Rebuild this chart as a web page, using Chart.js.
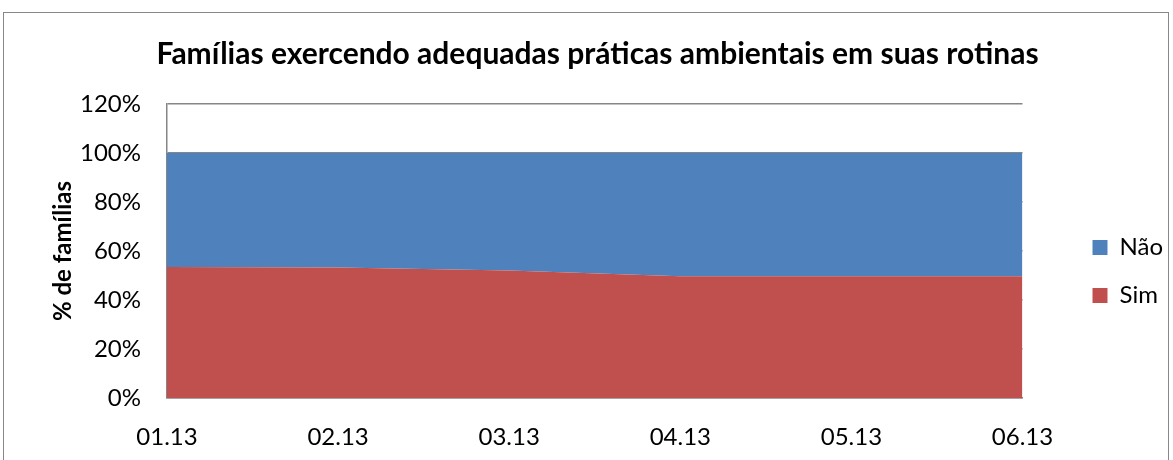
<!DOCTYPE html>
<html>
<head>
<meta charset="utf-8">
<script src="https://cdn.jsdelivr.net/npm/chart.js@4"></script>
<style>
  body { margin: 0; background: #fff; }
  #wrap { position: relative; width: 1173px; height: 460px; overflow: hidden; }
  #frame { position: absolute; left: 3px; top: 12px; width: 1164px; height: 500px; border: 1.5px solid #878787; }
  canvas { position: absolute; left: 0; top: 0; }
</style>
</head>
<body>
<div id="wrap">
  <div id="frame"></div>
  <canvas id="chart" width="1173" height="460"></canvas>
</div>
<script>
// Data
const months = ['01.13', '02.13', '03.13', '04.13', '05.13', '06.13'];
const sim = [53.5, 53.3, 52.0, 49.7, 49.7, 49.7];
const nao = [46.5, 46.7, 48.0, 50.3, 50.3, 50.3];
const yTicks = [0, 20, 40, 60, 80, 100, 120];

const font = 'Lato, "Open Sans", sans-serif';
const gray = '#868686';

const ctx = document.getElementById('chart').getContext('2d');
const chart = new Chart(ctx, {
  type: 'line',
  data: {
    labels: months,
    datasets: [
      {
        label: 'Sim',
        data: sim,
        backgroundColor: '#C0504D',
        borderColor: '#C0504D',
        borderWidth: 0,
        pointRadius: 0,
        fill: 'origin',
      },
      {
        label: 'Não',
        data: nao,
        backgroundColor: '#4F81BD',
        borderColor: '#4F81BD',
        borderWidth: 0,
        pointRadius: 0,
        fill: '-1',
      },
    ],
  },
  options: {
    responsive: false,
    animation: false,
    layout: { padding: { left: 22, right: 0, top: 0, bottom: 0 } },
    plugins: {
      title: {
        display: true,
        text: 'Famílias exercendo adequadas práticas ambientais em suas rotinas',
        color: '#000',
        font: { family: font, size: 30, weight: 'bold' },
        padding: { top: 36, bottom: 32 },
      },
      legend: {
        position: 'right',
        reverse: true,
        maxWidth: 106,
        // empty title only pushes the items down
        title: { display: true, text: '', font: { size: 20 }, padding: 29.5 },
        labels: {
          color: '#000',
          font: { family: font, size: 24 },
          boxWidth: 15,
          boxHeight: 15,
          padding: 24,
        },
      },
      tooltip: { enabled: false },
    },
    scales: {
      x: {
        grid: { display: false },
        border: { display: true, color: gray, width: 1.5 },
        ticks: { color: '#000', font: { family: font, size: 24 }, padding: 17, maxRotation: 0 },
        afterFit: (s) => { s.height = 62; },
      },
      y: {
        stacked: true,
        min: 0,
        max: 120,
        afterBuildTicks: (s) => { s.ticks = yTicks.map((v) => ({ value: v })); },
        grid: { color: gray, lineWidth: 1.5, drawTicks: false },
        border: { display: true, color: gray, width: 1.5 },
        ticks: {
          color: '#000',
          font: { family: font, size: 24 },
          padding: 26,
          callback: (v) => v + '%',
        },
        title: {
          display: true,
          text: '% de famílias',
          color: '#000',
          font: { family: font, size: 24, weight: 'bold' },
          padding: { top: 27, bottom: 0 },
        },
        afterFit: (s) => { s.width = 145; },
      },
      // empty spacer between plot and legend
      gap: {
        type: 'linear',
        position: 'right',
        display: true,
        grid: { display: false },
        border: { display: false },
        ticks: { display: false },
        afterFit: (s) => { s.width = 46; },
      },
    },
  },
});
</script>
</body>
</html>
